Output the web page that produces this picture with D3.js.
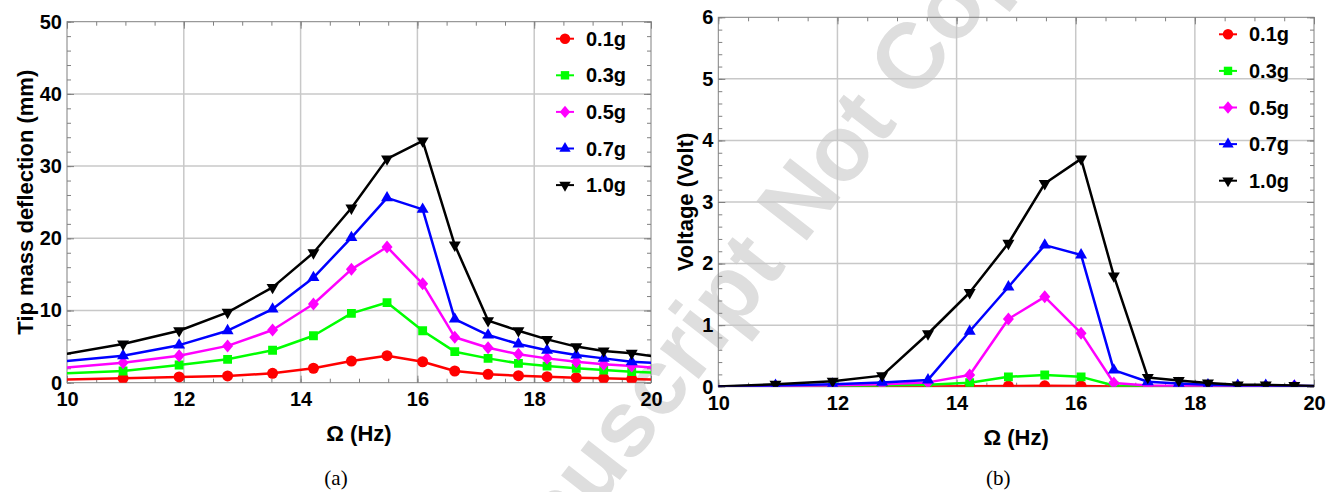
<!DOCTYPE html>
<html>
<head>
<meta charset="utf-8">
<script src="https://cdn.jsdelivr.net/npm/d3@7"></script>
<style>
body{margin:0;background:#fff;}
svg text{font-family:"Liberation Sans", Arial, sans-serif;}
</style>
</head>
<body>
<div id="chart"></div>
<script>
// excitation frequency (Hz); first and last points lie just outside the plot range
var freq = [9.86, 10.96, 11.92, 12.75, 13.52, 14.22, 14.87, 15.48, 16.09, 16.64, 17.21, 17.73, 18.22, 18.72, 19.19, 19.67, 20.15];

var labels = ["0.1g", "0.3g", "0.5g", "0.7g", "1.0g"];
var colors = ["#ff0000", "#00ff00", "#ff00ff", "#0000ff", "#000000"];
var shapes = ["circle", "square", "diamond", "triUp", "triDown"];

// (a) tip mass deflection, mm
var defl01 = [0.43, 0.6, 0.8, 0.93, 1.3, 2.0, 3.0, 3.74, 2.9, 1.62, 1.16, 0.97, 0.83, 0.7, 0.6, 0.51, 0.42];
var defl03 = [1.25, 1.62, 2.45, 3.24, 4.5, 6.5, 9.6, 11.1, 7.2, 4.3, 3.37, 2.68, 2.3, 1.99, 1.76, 1.53, 1.34];
var defl05 = [2.0, 2.77, 3.74, 5.1, 7.3, 10.9, 15.7, 18.8, 13.7, 6.3, 4.85, 3.93, 3.37, 2.9, 2.55, 2.3, 2.01];
var defl07 = [2.9, 3.74, 5.2, 7.2, 10.2, 14.55, 20.1, 25.6, 24.0, 8.8, 6.6, 5.36, 4.5, 3.84, 3.37, 2.9, 2.71];
var defl10 = [3.8, 5.36, 7.2, 9.75, 13.2, 18.0, 24.2, 31.0, 33.5, 19.07, 8.6, 7.2, 6.0, 5.0, 4.4, 4.07, 3.53];

// (b) voltage, V
var volt01 = [0, 0.002, 0.003, 0.004, 0.005, 0.007, 0.01, 0.015, 0.01, 0.004, 0.003, 0.002, 0.002, 0.001, 0.001, 0.001, 0];
var volt03 = [0, 0.005, 0.01, 0.02, 0.03, 0.065, 0.16, 0.19, 0.16, 0.02, 0.01, 0.005, 0.005, 0.004, 0.003, 0.003, 0.002];
var volt05 = [0, 0.01, 0.02, 0.04, 0.07, 0.19, 1.1, 1.46, 0.87, 0.06, 0.02, 0.01, 0.01, 0.01, 0.01, 0.01, 0.005];
var volt07 = [0, 0.02, 0.04, 0.07, 0.11, 0.9, 1.62, 2.3, 2.14, 0.27, 0.08, 0.05, 0.03, 0.02, 0.02, 0.01, 0.01];
var volt10 = [0, 0.04, 0.09, 0.18, 0.86, 1.53, 2.33, 3.3, 3.7, 1.8, 0.15, 0.1, 0.06, 0.03, 0.03, 0.02, 0.01];

var xTicks = [10, 12, 14, 16, 18, 20];
var deflTicks = [0, 10, 20, 30, 40, 50];
var voltTicks = [0, 1, 2, 3, 4, 5, 6];

var svg = d3.select("#chart")
            .append("svg")
            .attr("width", 1327)
            .attr("height", 492);

// faint diagonal watermark behind both panels
svg.append("text")
   .attr("transform", "translate(208,1007) rotate(-52)")
   .attr("font-size", 93)
   .attr("font-weight", "bold")
   .attr("fill", "#dedede")
   .text("Accepted Manuscript Not Copyedited");

function markerPath(shape, k) {
    if (shape == "circle") return d3.symbol(d3.symbolCircle, 95 * k * k)();
    if (shape == "square") return d3.symbol(d3.symbolSquare, 78 * k * k)();
    if (shape == "diamond") return "M0," + (-6.5 * k) + "L" + (5.5 * k) + ",0L0," + (6.5 * k) + "L" + (-5.5 * k) + ",0Z";
    return d3.symbol(d3.symbolTriangle, 62 * k * k)();
}

var drawPanel = function(p) {
    var width = p.right - p.left,
        height = p.bottom - p.top;
    var g = svg.append("g")
               .attr("transform", "translate(" + p.left + "," + p.top + ")");

    var xScale = d3.scaleLinear().domain([10, 20]).range([0, width]);
    var yScale = d3.scaleLinear().domain(p.yDomain).range([height, 0]);

    // grid
    g.append("g").selectAll("line")
     .data(xTicks.slice(1, -1))
     .enter().append("line")
     .attr("x1", d => xScale(d)).attr("x2", d => xScale(d))
     .attr("y1", 0).attr("y2", height)
     .attr("stroke", "#c8c8c8").attr("stroke-width", 1.5);
    g.append("g").selectAll("line")
     .data(p.yTicks.slice(1, -1))
     .enter().append("line")
     .attr("y1", d => yScale(d)).attr("y2", d => yScale(d))
     .attr("x1", 0).attr("x2", width)
     .attr("stroke", "#c8c8c8").attr("stroke-width", 1.5);

    // ticks on all four sides, pointing inward
    var xMinor = d3.range(10, 20.01, 0.5);
    var yMinor = d3.range(p.yDomain[0], p.yDomain[1] + 1e-6, p.yMinor);
    var axes = [
        [d3.axisBottom(xScale).tickValues(xTicks).tickSize(-7).tickPadding(9).tickFormat(d3.format("d")), "translate(0," + height + ")", true],
        [d3.axisBottom(xScale).tickValues(xMinor).tickSize(-4).tickFormat(""), "translate(0," + height + ")", false],
        [d3.axisTop(xScale).tickValues(xTicks).tickSize(-7).tickFormat(""), null, false],
        [d3.axisTop(xScale).tickValues(xMinor).tickSize(-4).tickFormat(""), null, false],
        [d3.axisLeft(yScale).tickValues(p.yTicks).tickSize(-7).tickPadding(5).tickFormat(d3.format("d")), null, true],
        [d3.axisLeft(yScale).tickValues(yMinor).tickSize(-4).tickFormat(""), null, false],
        [d3.axisRight(yScale).tickValues(p.yTicks).tickSize(-7).tickFormat(""), "translate(" + width + ",0)", false],
        [d3.axisRight(yScale).tickValues(yMinor).tickSize(-4).tickFormat(""), "translate(" + width + ",0)", false]
    ];
    axes.forEach(function(a) {
        var ax = g.append("g").call(a[0]);
        if (a[1]) ax.attr("transform", a[1]);
        ax.select(".domain").remove();
        ax.selectAll("line").attr("stroke", "#808080");
        ax.selectAll("text")
          .attr("font-size", 20)
          .attr("font-weight", "bold")
          .attr("fill", "#000")
          .style("font-family", "'Liberation Sans', Arial, sans-serif");
    });

    g.append("rect")
     .attr("width", width).attr("height", height)
     .attr("fill", "none").attr("stroke", "#808080").attr("stroke-width", 1);

    // data
    g.append("clipPath").attr("id", p.id + "_clip")
     .append("rect").attr("width", width).attr("height", height);
    var plot = g.append("g").attr("clip-path", "url(#" + p.id + "_clip)");
    var line = d3.line().x(d => xScale(d[0])).y(d => yScale(d[1]));

    p.series.forEach(function(vals, i) {
        var pts = freq.map((f, j) => [f, vals[j]]);
        plot.append("path")
            .datum(pts)
            .attr("fill", "none")
            .attr("stroke", colors[i])
            .attr("stroke-width", 2.5)
            .attr("stroke-linejoin", "round")
            .attr("d", line);
        plot.append("g").selectAll("path")
            .data(pts)
            .enter().append("path")
            .attr("d", markerPath(shapes[i], 1))
            .attr("fill", colors[i])
            .attr("transform", d => "translate(" + xScale(d[0]) + "," + yScale(d[1]) + ")" + (shapes[i] == "triDown" ? " rotate(180)" : ""));
    });

    // legend
    var leg = g.append("g").attr("transform", "translate(" + (width - 86) + ",17)");
    labels.forEach(function(lab, i) {
        var row = leg.append("g").attr("transform", "translate(0," + (i * 36.6) + ")");
        row.append("line")
           .attr("x1", -9).attr("x2", 9)
           .attr("stroke", colors[i]).attr("stroke-width", 2);
        row.append("path")
           .attr("d", markerPath(shapes[i], 0.95))
           .attr("fill", colors[i])
           .attr("transform", shapes[i] == "triDown" ? "rotate(180)" : null);
        row.append("text")
           .attr("x", 21).attr("y", 7)
           .attr("font-size", 20).attr("font-weight", "bold")
           .text(lab);
    });

    // axis titles
    g.append("text")
     .attr("x", width / 2).attr("y", height + 58)
     .attr("text-anchor", "middle")
     .attr("font-size", 22).attr("font-weight", "bold")
     .text("\u03A9 (Hz)");
    g.append("text")
     .attr("transform", "translate(" + p.yLabelX + "," + (height / 2) + ") rotate(-90)")
     .attr("text-anchor", "middle")
     .attr("font-size", 22).attr("font-weight", "bold")
     .text(p.yLabel);
    g.append("text")
     .attr("x", p.panelX).attr("y", 485 - p.top)
     .attr("text-anchor", "middle")
     .attr("font-size", 21)
     .style("font-family", "'Liberation Serif', 'Times New Roman', serif")
     .text(p.panel);
};

drawPanel({
    id: "a", left: 67, right: 651, top: 21.7, bottom: 382.7,
    yDomain: [0, 50], yTicks: deflTicks, yMinor: 2,
    series: [defl01, defl03, defl05, defl07, defl10],
    yLabel: "Tip mass deflection (mm)", yLabelX: -34,
    panel: "(a)", panelX: 269
});

drawPanel({
    id: "b", left: 718.3, right: 1314, top: 17.3, bottom: 386.7,
    yDomain: [0, 6], yTicks: voltTicks, yMinor: 0.2,
    series: [volt01, volt03, volt05, volt07, volt10],
    yLabel: "Voltage (Volt)", yLabelX: -25,
    panel: "(b)", panelX: 280
});
</script>
</body>
</html>
